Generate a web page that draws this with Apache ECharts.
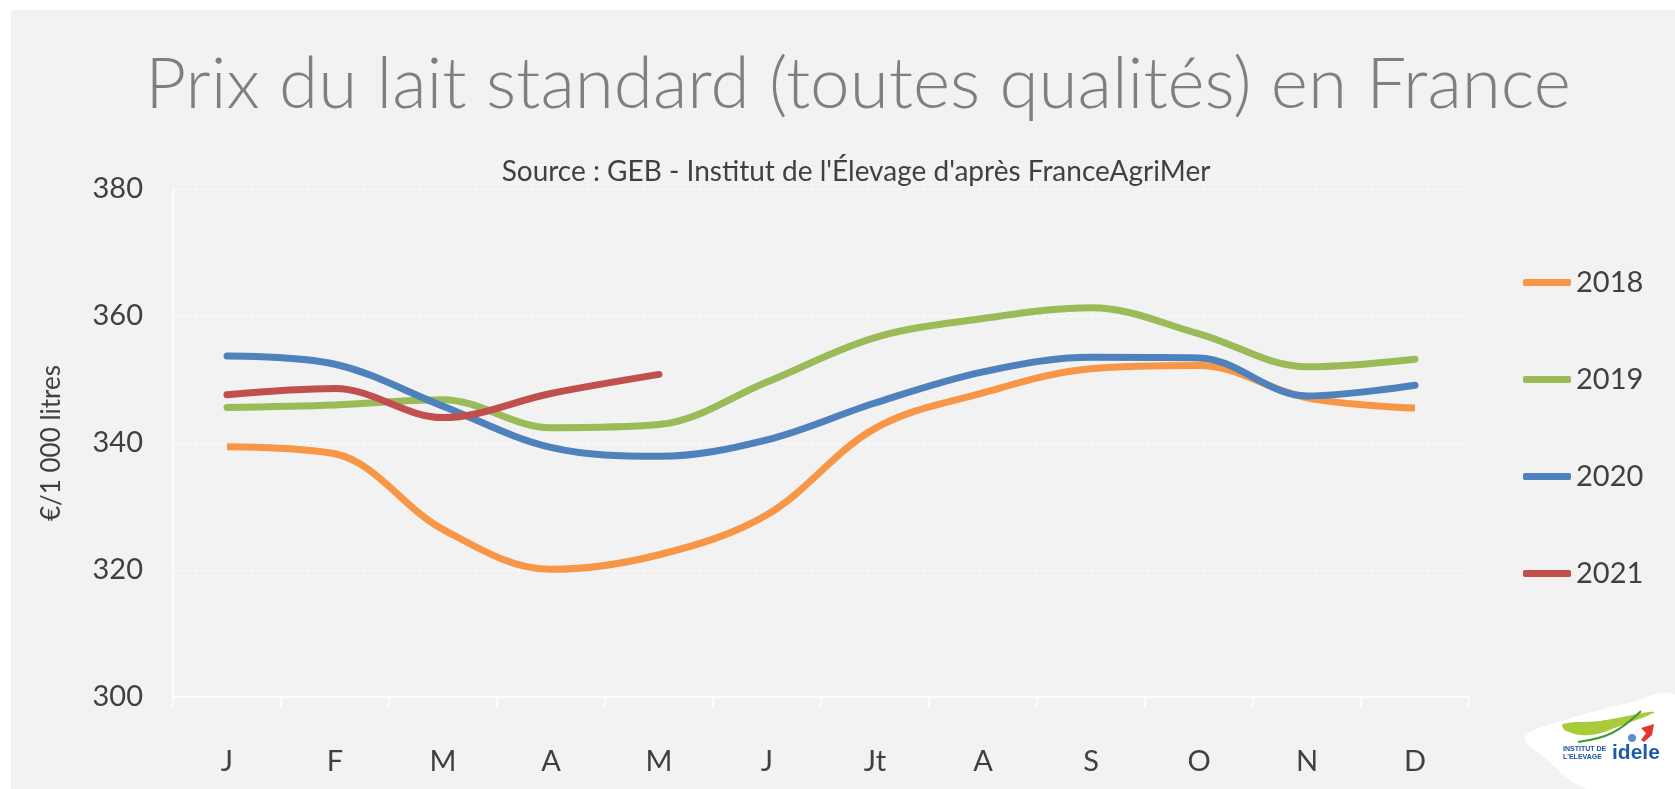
<!DOCTYPE html>
<html>
<head>
<meta charset="utf-8">
<script src="https://cdn.jsdelivr.net/npm/echarts@6/dist/echarts.min.js"></script>
<style>
html, body { margin: 0; padding: 0; background: #fff; }
#chart { width: 1675px; height: 789px; }
</style>
</head>
<body>
<div id="chart"></div>
<script>
// données (€/1 000 litres)
var mois = ['J', 'F', 'M', 'A', 'M', 'J', 'Jt', 'A', 'S', 'O', 'N', 'D'];
var annees = ['2018', '2019', '2020', '2021'];
var prix2018 = [339.4, 338.3, 326.4, 320.1, 322.4, 328.7, 342.3, 347.9, 351.7, 352.2, 347.1, 345.5];
var prix2019 = [345.6, 346.0, 346.8, 342.4, 342.9, 349.6, 356.6, 359.6, 361.3, 357.2, 352.0, 353.2];
var prix2020 = [353.7, 352.4, 345.8, 339.3, 337.9, 340.5, 346.3, 351.2, 353.5, 353.4, 347.4, 349.1];
var prix2021 = [347.6, 348.6, 344.0, 347.8, 350.8];
var yMin = 300, yMax = 380, yStep = 20;

var couleurs = ['#F79646', '#9BBB59', '#4F81BD', '#C0504D'];
var police = 'Lato, "Open Sans", sans-serif';

var myChart = echarts.init(document.getElementById('chart'));

function serie(nom, valeurs, cap) {
    return {
        name: nom,
        type: 'line',
        data: valeurs,
        smooth: 0.35,
        showSymbol: false,
        symbol: 'none',
        lineStyle: { width: 7, cap: cap },
        emphasis: { disabled: true }
    };
}

var option = {
    backgroundColor: '#fff',
    animation: false,
    color: couleurs,
    textStyle: { fontFamily: police },
    title: [{
        text: 'Prix du lait standard (toutes qualités) en France',
        left: 853,
        top: 80,
        textAlign: 'center',
        textVerticalAlign: 'middle',
        textStyle: { color: '#7f7f7f', fontSize: 71, fontWeight: 300, fontFamily: police }
    }, {
        text: "Source : GEB - Institut de l'Élevage d'après FranceAgriMer",
        left: 851,
        top: 167,
        textAlign: 'center',
        textVerticalAlign: 'middle',
        textStyle: { color: '#404040', fontSize: 28, fontWeight: 'normal', fontFamily: police }
    }],
    legend: {
        data: annees,
        orient: 'vertical',
        left: 1523,
        top: 268,
        padding: 0,
        itemWidth: 48,
        itemHeight: 7,
        itemGap: 68,
        icon: 'roundRect',
        textStyle: { color: '#404040', fontSize: 29 }
    },
    grid: { left: 173, right: 206, top: 189, bottom: 92 },
    xAxis: {
        type: 'category',
        data: mois,
        boundaryGap: true,
        axisLine: { lineStyle: { color: '#ffffff', width: 1.5 } },
        axisTick: { show: true, length: 10, lineStyle: { color: '#ffffff', width: 1.5 } },
        axisLabel: { color: '#404040', fontSize: 29, margin: 50 }
    },
    yAxis: {
        type: 'value',
        min: yMin,
        max: yMax,
        interval: yStep,
        name: '€/1 000 litres',
        nameLocation: 'middle',
        nameRotate: 90,
        nameGap: 108,
        nameTextStyle: { color: '#404040', fontSize: 26 },
        axisLine: { show: true, lineStyle: { color: '#ffffff', width: 1.5 } },
        axisTick: { show: false },
        axisLabel: { color: '#404040', fontSize: 29, margin: 30 },
        splitLine: { lineStyle: { color: '#ffffff', type: [4, 3], width: 1 } }
    },
    graphic: [
        // fond gris de la zone du graphique
        { type: 'rect', z: -10, silent: true, shape: { x: 11, y: 10, width: 1664, height: 779 }, style: { fill: '#f2f2f2' } },
        // logo idele
        {
            type: 'group', z: 10, silent: true,
            children: [
                { type: 'polygon', shape: { smooth: 0.35, points: [[1525, 737], [1565, 720], [1625, 704], [1675, 696], [1675, 789], [1588, 789], [1545, 758]] }, style: { fill: '#ffffff' } },
                { type: 'polygon', shape: { smooth: 0.4, points: [[1563, 724], [1600, 721], [1654, 712], [1620, 726], [1590, 735], [1566, 731]] }, style: { fill: '#A9CB3A' } },
                { type: 'polyline', shape: { smooth: 0.4, points: [[1578, 742], [1612, 733], [1641, 711]] }, style: { stroke: '#3E9A36', lineWidth: 2, fill: null } },
                { type: 'circle', shape: { cx: 1632, cy: 738, r: 4 }, style: { fill: '#5B8FC9' } },
                { type: 'polygon', shape: { points: [[1641, 728], [1654, 724], [1652, 735], [1644, 742], [1641, 740], [1646, 733]] }, style: { fill: '#E2382B' } },
                { type: 'text', style: { x: 1563, y: 749, text: 'INSTITUT DE', fill: '#1E4FA0', font: 'bold 7px "Liberation Sans"', textVerticalAlign: 'middle' } },
                { type: 'text', style: { x: 1563, y: 757, text: "L'ELEVAGE", fill: '#1E4FA0', font: 'bold 7px "Liberation Sans"', textVerticalAlign: 'middle' } },
                { type: 'text', style: { x: 1612, y: 753, text: 'idele', fill: '#1E5AAA', font: 'bold 21px "Liberation Sans"', textVerticalAlign: 'middle' } }
            ]
        }
    ],
    series: [
        serie('2018', prix2018, 'butt'),
        serie('2019', prix2019, 'round'),
        serie('2020', prix2020, 'round'),
        serie('2021', prix2021, 'round')
    ]
};
myChart.setOption(option);
</script>
</body>
</html>
